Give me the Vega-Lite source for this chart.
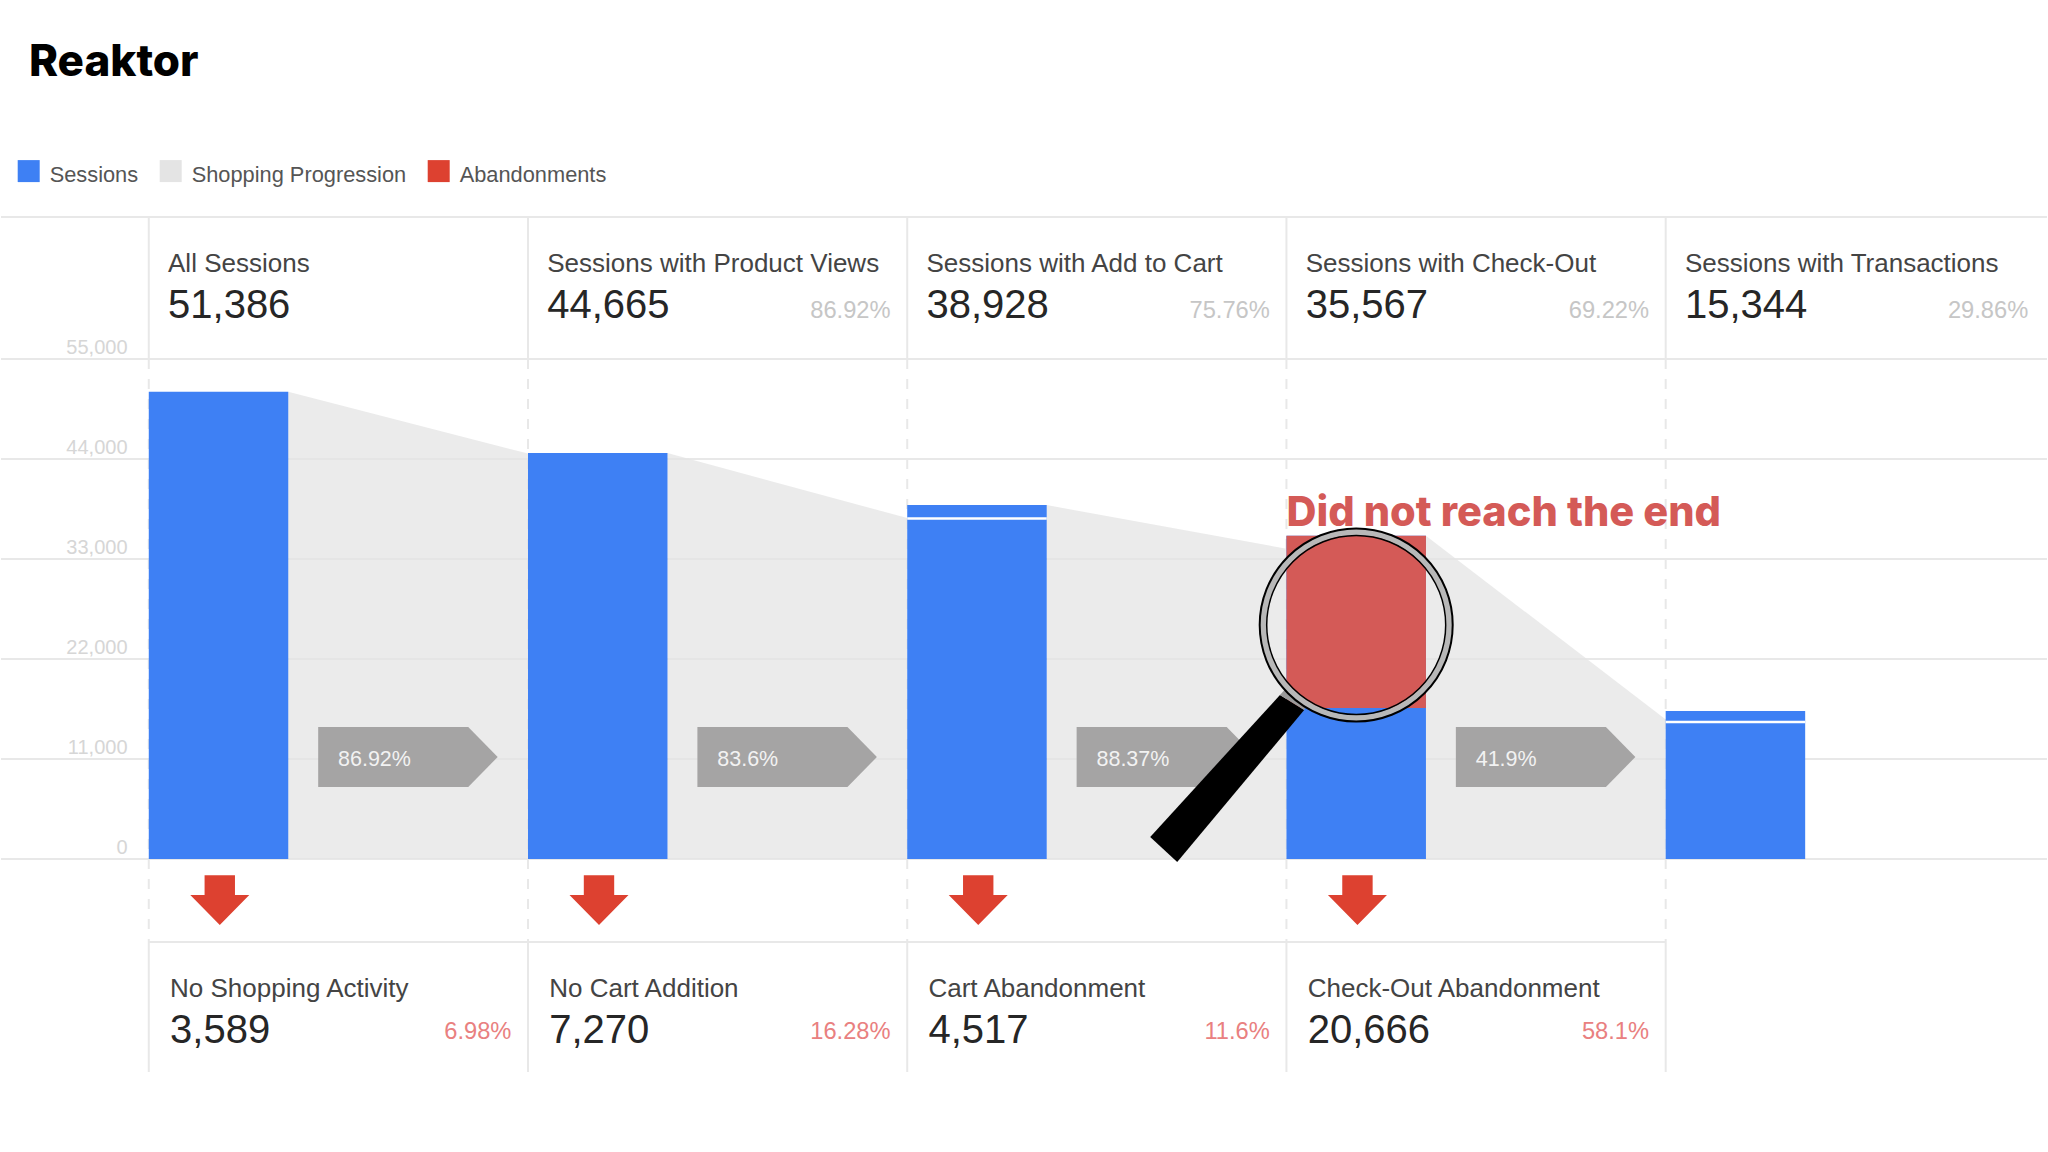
{
  "$schema": "https://vega.github.io/schema/vega-lite/v6.json",
  "width": 2048,
  "height": 1152,
  "padding": 0,
  "autosize": {"type": "fit", "contains": "padding"},
  "background": "#ffffff",
  "config": {
    "view": {"stroke": null},
    "axisX": {"disable": true},
    "text": {"font": "Liberation Sans"}
  },
  "datasets": {
    "stages": [
      {"stage": 0, "name": "All Sessions", "total": "51,386", "share": "", "top": 51386, "lost": "No Shopping Activity", "lostTotal": "3,589", "lostShare": "6.98%", "rate": "86.92%", "series": "Sessions", "down": "Abandonments"},
      {"stage": 1, "name": "Sessions with Product Views", "total": "44,665", "share": "86.92%", "top": 44665, "lost": "No Cart Addition", "lostTotal": "7,270", "lostShare": "16.28%", "rate": "83.6%", "series": "Sessions", "down": "Abandonments"},
      {"stage": 2, "name": "Sessions with Add to Cart", "total": "38,928", "share": "75.76%", "top": 38928, "lost": "Cart Abandonment", "lostTotal": "4,517", "lostShare": "11.6%", "rate": "88.37%", "series": "Sessions", "down": "Abandonments"},
      {"stage": 3, "name": "Sessions with Check-Out", "total": "35,567", "share": "69.22%", "top": 35567, "lost": "Check-Out Abandonment", "lostTotal": "20,666", "lostShare": "58.1%", "rate": "41.9%", "series": "Sessions", "down": "Abandonments"},
      {"stage": 4, "name": "Sessions with Transactions", "total": "15,344", "share": "29.86%", "top": 16280, "series": "Sessions"}
    ],
    "flow": [
      {"flow": 0, "pos": 0.1837, "value": 51386, "series": "Shopping Progression"},
      {"flow": 0, "pos": 0.8163, "value": 44600, "series": "Shopping Progression"},
      {"flow": 1, "pos": 1.1837, "value": 44665, "series": "Shopping Progression"},
      {"flow": 1, "pos": 1.8163, "value": 37500, "series": "Shopping Progression"},
      {"flow": 2, "pos": 2.1837, "value": 38928, "series": "Shopping Progression"},
      {"flow": 2, "pos": 2.8163, "value": 34130, "series": "Shopping Progression"},
      {"flow": 3, "pos": 3.1837, "value": 35567, "series": "Shopping Progression"},
      {"flow": 3, "pos": 3.8163, "value": 15344, "series": "Shopping Progression"}
    ],
    "notches": [
      {"stage": 2, "value": 37450},
      {"stage": 4, "value": 15070}
    ],
    "highlight": [
      {"stage": 3, "from": 16610, "to": 35567}
    ],
    "lines": [
      {"level": 70620, "x0": -0.5736, "x1": 4.8216},
      {"level": 55000, "x0": -0.5736, "x1": 4.8216},
      {"level": 44000, "x0": -0.5736, "x1": 4.8216},
      {"level": 33000, "x0": -0.5736, "x1": 4.8216},
      {"level": 22000, "x0": -0.5736, "x1": 4.8216},
      {"level": 11000, "x0": -0.5736, "x1": 4.8216},
      {"level": 0, "x0": -0.5736, "x1": 4.8216},
      {"level": -9130, "x0": -0.1837, "x1": 3.8163}
    ]
  },
  "layer": [
    {
      "data": {"name": "lines"},
      "mark": {"type": "rule", "color": "#e8e8e8", "strokeWidth": 2},
      "encoding": {
        "x": {"field": "x0", "type": "quantitative", "scale": {"domain": [-0.5736, 4.8216], "nice": false, "zero": false, "padding": 0}},
        "x2": {"field": "x1"},
        "y": {
          "field": "level",
          "type": "quantitative",
          "title": null,
          "scale": {"domain": [-32230, 94490], "nice": false, "zero": false},
          "axis": {
            "values": [0, 11000, 22000, 33000, 44000, 55000],
            "labelExpr": "format(datum.value, ',')",
            "offset": -131,
            "domain": false,
            "ticks": false,
            "grid": false,
            "labelPadding": 5,
            "labelOffset": -6,
            "labelBaseline": "alphabetic",
            "labelFont": "Liberation Sans",
            "labelFontSize": 20,
            "labelColor": "#d6d6d6"
          }
        }
      }
    },
    {
      "data": {"name": "stages"},
      "mark": {"type": "rule", "color": "#e8e8e8", "strokeWidth": 2, "xOffset": -69.75},
      "encoding": {
        "x": {"field": "stage", "type": "quantitative"},
        "y": {"datum": 70620, "type": "quantitative"},
        "y2": {"datum": 55000}
      }
    },
    {
      "data": {"name": "stages"},
      "mark": {"type": "rule", "color": "#e8e8e8", "strokeWidth": 2, "strokeDash": [10, 10], "xOffset": -69.75},
      "encoding": {
        "x": {"field": "stage", "type": "quantitative"},
        "y": {"datum": 55000, "type": "quantitative"},
        "y2": {"datum": -9130}
      }
    },
    {
      "data": {"name": "stages"},
      "mark": {"type": "rule", "color": "#e8e8e8", "strokeWidth": 2, "xOffset": -69.75},
      "encoding": {
        "x": {"field": "stage", "type": "quantitative"},
        "y": {"datum": -9130, "type": "quantitative"},
        "y2": {"datum": -23430}
      }
    },
    {
      "data": {"name": "flow"},
      "mark": {"type": "area", "opacity": 0.75},
      "encoding": {
        "x": {"field": "pos", "type": "quantitative"},
        "y": {"field": "value", "type": "quantitative", "stack": null},
        "detail": {"field": "flow"},
        "color": {"field": "series", "type": "nominal"}
      }
    },
    {
      "data": {"name": "stages"},
      "mark": {"type": "bar", "orient": "vertical", "width": 139.5},
      "encoding": {
        "x": {"field": "stage", "type": "quantitative"},
        "y": {"field": "top", "type": "quantitative", "stack": null},
        "color": {
          "field": "series",
          "type": "nominal",
          "scale": {"domain": ["Sessions", "Shopping Progression", "Abandonments"], "range": ["#3e80f4", "#e4e4e4", "#dd4130"]},
          "legend": {
            "orient": "none",
            "legendX": 16.7,
            "legendY": 160,
            "direction": "horizontal",
            "columns": 3,
            "title": null,
            "padding": 0,
            "symbolType": "square",
            "symbolSize": 484,
            "symbolStrokeWidth": 0,
            "labelFont": "Liberation Sans",
            "labelFontSize": 21.8,
            "labelColor": "#555555",
            "labelOffset": 10,
            "labelLimit": 400,
            "labelBaseline": "alphabetic",
            "columnPadding": 21,
            "encode": {
              "symbols": {"update": {"opacity": {"value": 1}}},
              "labels": {"update": {"dy": {"value": 11}}}
            }
          }
        }
      }
    },
    {
      "data": {"name": "notches"},
      "mark": {"type": "tick", "orient": "horizontal", "size": 139.5, "thickness": 2.5, "color": "#ffffff", "opacity": 1},
      "encoding": {
        "x": {"field": "stage", "type": "quantitative"},
        "y": {"field": "value", "type": "quantitative"}
      }
    },
    {
      "data": {"name": "highlight"},
      "mark": {"type": "bar", "orient": "vertical", "width": 139.5, "color": "#d45a57"},
      "encoding": {
        "x": {"field": "stage", "type": "quantitative"},
        "y": {"field": "from", "type": "quantitative"},
        "y2": {"field": "to"}
      }
    },
    {
      "data": {"name": "stages"},
      "transform": [{"filter": "datum.rate"}],
      "mark": {"type": "point", "shape": "M-1,-0.334L0.672,-0.334L1,0L0.672,0.334L-1,0.334Z", "size": 32220, "filled": true, "opacity": 1, "color": "#a5a4a4", "xOffset": 189.4},
      "encoding": {
        "x": {"field": "stage", "type": "quantitative"},
        "y": {"datum": 11220, "type": "quantitative"}
      }
    },
    {
      "data": {"name": "stages"},
      "transform": [{"filter": "datum.rate"}],
      "mark": {"type": "text", "align": "left", "baseline": "alphabetic", "fontSize": 21.5, "color": "#f2f2f2", "xOffset": 119.5},
      "encoding": {
        "x": {"field": "stage", "type": "quantitative"},
        "y": {"datum": 10230, "type": "quantitative"},
        "text": {"field": "rate"}
      }
    },
    {
      "data": {"name": "stages"},
      "transform": [{"filter": "datum.down"}],
      "mark": {"type": "point", "shape": "M-0.515,-0.84L0.515,-0.84L0.515,-0.17L1,-0.17L0,0.85L-1,-0.17L-0.515,-0.17Z", "size": 3481, "filled": true, "opacity": 1, "xOffset": 1.25},
      "encoding": {
        "x": {"field": "stage", "type": "quantitative"},
        "y": {"datum": -4510, "type": "quantitative"},
        "color": {"field": "down", "type": "nominal"}
      }
    },
    {
      "data": {"name": "stages"},
      "mark": {"type": "text", "align": "left", "baseline": "alphabetic", "fontSize": 26, "color": "#444444", "xOffset": -50.5},
      "encoding": {
        "x": {"field": "stage", "type": "quantitative"},
        "y": {"datum": 64570, "type": "quantitative"},
        "text": {"field": "name"}
      }
    },
    {
      "data": {"name": "stages"},
      "mark": {"type": "text", "align": "left", "baseline": "alphabetic", "fontSize": 40, "color": "#262626", "xOffset": -50.5},
      "encoding": {
        "x": {"field": "stage", "type": "quantitative"},
        "y": {"datum": 59510, "type": "quantitative"},
        "text": {"field": "total"}
      }
    },
    {
      "data": {"name": "stages"},
      "mark": {"type": "text", "align": "right", "baseline": "alphabetic", "fontSize": 23.7, "color": "#c6c6c6", "xOffset": 292.85},
      "encoding": {
        "x": {"field": "stage", "type": "quantitative"},
        "y": {"datum": 59510, "type": "quantitative"},
        "text": {"field": "share"}
      }
    },
    {
      "data": {"name": "stages"},
      "transform": [{"filter": "datum.lost"}],
      "mark": {"type": "text", "align": "left", "baseline": "alphabetic", "fontSize": 26, "color": "#444444", "xOffset": -48.5},
      "encoding": {
        "x": {"field": "stage", "type": "quantitative"},
        "y": {"datum": -15180, "type": "quantitative"},
        "text": {"field": "lost"}
      }
    },
    {
      "data": {"name": "stages"},
      "transform": [{"filter": "datum.lost"}],
      "mark": {"type": "text", "align": "left", "baseline": "alphabetic", "fontSize": 40, "color": "#262626", "xOffset": -48.5},
      "encoding": {
        "x": {"field": "stage", "type": "quantitative"},
        "y": {"datum": -20240, "type": "quantitative"},
        "text": {"field": "lostTotal"}
      }
    },
    {
      "data": {"name": "stages"},
      "transform": [{"filter": "datum.lost"}],
      "mark": {"type": "text", "align": "right", "baseline": "alphabetic", "fontSize": 23.7, "color": "#e98080", "xOffset": 292.85},
      "encoding": {
        "x": {"field": "stage", "type": "quantitative"},
        "y": {"datum": -19800, "type": "quantitative"},
        "text": {"field": "lostShare"}
      }
    },
    {
      "data": {"values": [{"stage": 3, "note": "Did not reach the end"}]},
      "mark": {"type": "text", "align": "left", "baseline": "alphabetic", "font": "Inter", "fontWeight": 800, "fontSize": 41.5, "color": "#d45a57", "xOffset": -69.75},
      "encoding": {
        "x": {"field": "stage", "type": "quantitative"},
        "y": {"datum": 36663, "type": "quantitative"},
        "text": {"field": "note"}
      }
    },
    {
      "data": {"values": [{"stage": 3}]},
      "mark": {"type": "point", "shape": "M-0.301,0.28L-0.204,0.34L-0.712,0.948L-0.82,0.848Z", "size": 250000, "filled": true, "opacity": 1, "color": "#000000", "xOffset": -1},
      "encoding": {
        "x": {"field": "stage", "type": "quantitative"},
        "y": {"datum": 25740, "type": "quantitative"}
      }
    },
    {
      "data": {"values": [{"stage": 3}]},
      "mark": {"type": "point", "shape": "M-0.301,0.28L-0.204,0.34L-0.19,0.3L-0.27,0.245Z", "size": 250000, "filled": true, "opacity": 1, "color": "#9a9a9a", "xOffset": -1},
      "encoding": {
        "x": {"field": "stage", "type": "quantitative"},
        "y": {"datum": 25740, "type": "quantitative"}
      }
    },
    {
      "data": {"values": [{"stage": 3}]},
      "mark": {"type": "point", "shape": "circle", "size": 34596, "filled": false, "opacity": 1, "color": "#b8b8b8", "strokeWidth": 6},
      "encoding": {
        "x": {"field": "stage", "type": "quantitative"},
        "y": {"datum": 25740, "type": "quantitative"}
      }
    },
    {
      "data": {"values": [{"stage": 3}]},
      "mark": {"type": "point", "shape": "circle", "size": 37249, "filled": false, "opacity": 1, "color": "#000000", "strokeWidth": 2},
      "encoding": {
        "x": {"field": "stage", "type": "quantitative"},
        "y": {"datum": 25740, "type": "quantitative"}
      }
    },
    {
      "data": {"values": [{"stage": 3}]},
      "mark": {"type": "point", "shape": "circle", "size": 32041, "filled": false, "opacity": 1, "color": "#000000", "strokeWidth": 1.5},
      "encoding": {
        "x": {"field": "stage", "type": "quantitative"},
        "y": {"datum": 25740, "type": "quantitative"}
      }
    },
    {
      "data": {"values": [{"brand": "Reaktor", "pos": -0.4999}]},
      "mark": {"type": "text", "align": "left", "baseline": "alphabetic", "font": "Inter", "fontWeight": 800, "fontSize": 44, "color": "#000000"},
      "encoding": {
        "x": {"field": "pos", "type": "quantitative"},
        "y": {"datum": 86130, "type": "quantitative"},
        "text": {"field": "brand"}
      }
    }
  ]
}
